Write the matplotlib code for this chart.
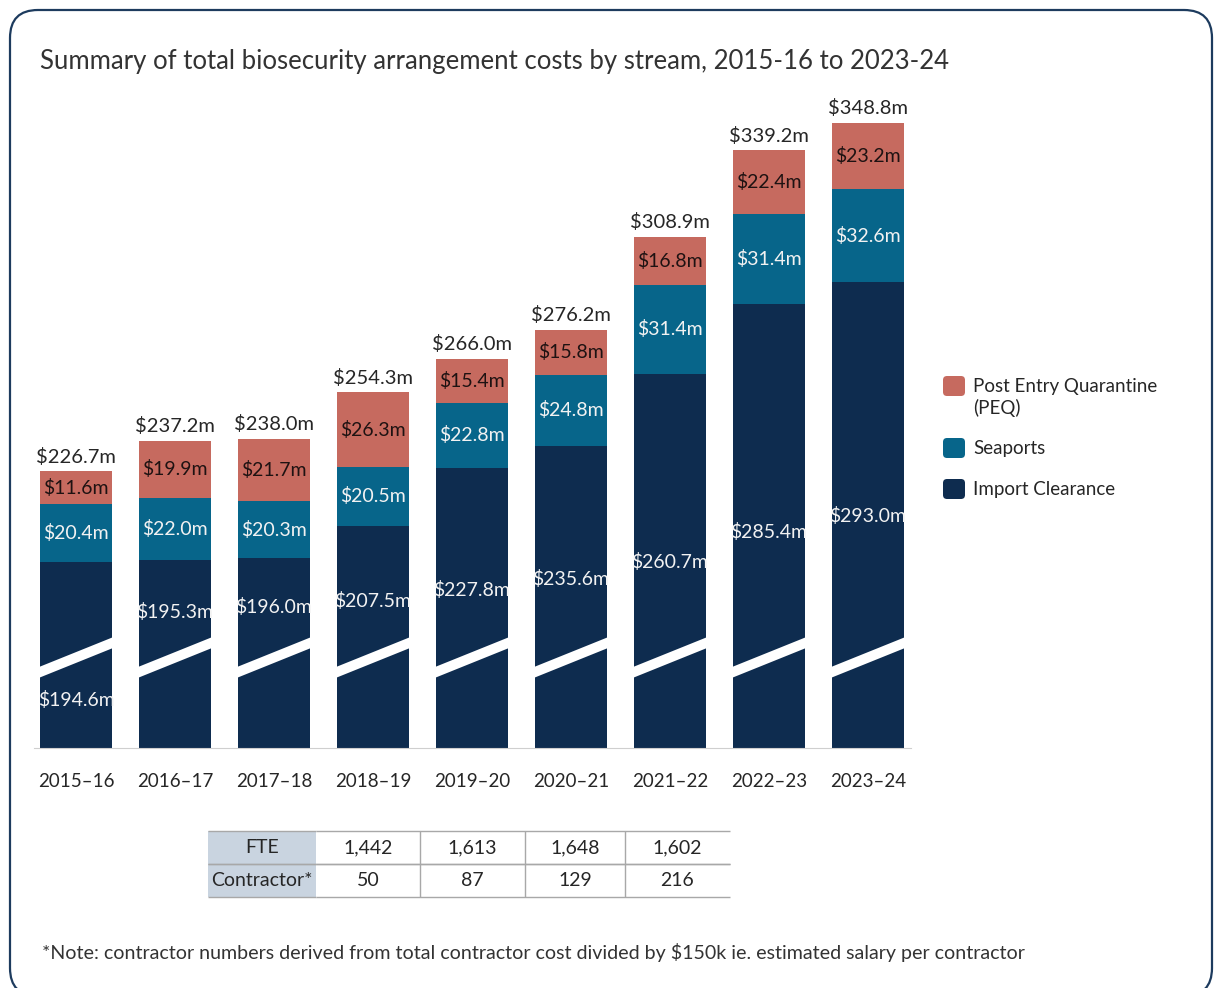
import matplotlib
matplotlib.use('Agg')
import matplotlib.pyplot as plt
import numpy as np
from matplotlib.patches import FancyBboxPatch, Polygon, Rectangle
from matplotlib.transforms import IdentityTransform

# ---- data ----
years = ['2015–16', '2016–17', '2017–18', '2018–19', '2019–20',
         '2020–21', '2021–22', '2022–23', '2023–24']
import_clearance = [194.6, 195.3, 196.0, 207.5, 227.8, 235.6, 260.7, 285.4, 293.0]
seaports = [20.4, 22.0, 20.3, 20.5, 22.8, 24.8, 31.4, 31.4, 32.6]
peq = [11.6, 19.9, 21.7, 26.3, 15.4, 15.8, 16.8, 22.4, 23.2]
totals = [226.7, 237.2, 238.0, 254.3, 266.0, 276.2, 308.9, 339.2, 348.8]

table_rows = ['FTE', 'Contractor*']
fte = ['1,442', '1,613', '1,648', '1,602']
contractors = ['50', '87', '129', '216']

# where the import clearance labels sit (value units, axis is cut)
import_label_y = [146.3, 177.2, 179.0, 181.1, 184.9, 188.8, 194.8, 205.3, 210.9]

C_IMPORT = '#0e2c4f'
C_SEA = '#07658a'
C_PEQ = '#c66a5f'
TXT = '#262626'

plt.rcParams['font.family'] = ['Lato', 'DejaVu Sans']

W, H = 1214, 988
fig = plt.figure(figsize=(W / 100, H / 100), dpi=100)

# rounded frame
frame = FancyBboxPatch((10, -8), W - 12, H - 2, boxstyle='round,pad=0,rounding_size=28',
                       transform=IdentityTransform(), fill=False,
                       edgecolor='#1d3b5e', linewidth=1.6)
fig.add_artist(frame)

fig.text(40 / W, 1 - 62 / H,
         'Summary of total biosecurity arrangement costs by stream, 2015-16 to 2023-24',
         fontsize=18.5, color='#333333', va='center', ha='left')

# ---- bars (axis starts above zero, bars broken) ----
ymin = 129.5
scale = 2.85  # px per $m
ax = fig.add_axes([26.5 / W, (H - 748) / H, 891 / W, 648 / H])
ax.set_xlim(-0.5, 8.5)
ax.set_ylim(ymin, ymin + 648 / scale)

x = np.arange(len(years))
w = 0.73
imp = np.array(import_clearance)
sea = np.array(seaports)
pq = np.array(peq)

ax.bar(x, imp, width=w, color=C_IMPORT, zorder=2)
ax.bar(x, sea, bottom=imp, width=w, color=C_SEA, zorder=2)
ax.bar(x, pq, bottom=imp + sea, width=w, color=C_PEQ, zorder=2)

# white break stripe
for xi in x:
    l, r = xi - w / 2 - 0.01, xi + w / 2 + 0.01
    ax.add_patch(Polygon([(l, 154.1), (r, 164.6), (r, 168.4), (l, 157.9)],
                         closed=True, facecolor='white', edgecolor='none', zorder=3))

fs = 14
for i in x:
    ax.text(i, import_label_y[i], f'${imp[i]:.1f}m', ha='center', va='center',
            color='#f2f2f2', fontsize=fs, zorder=4)
    ax.text(i, imp[i] + sea[i] / 2, f'${sea[i]:.1f}m', ha='center', va='center',
            color='#f2f2f2', fontsize=fs, zorder=4)
    ax.text(i, imp[i] + sea[i] + pq[i] / 2, f'${pq[i]:.1f}m', ha='center', va='center',
            color='#1e1212', fontsize=fs, zorder=4)
    top = imp[i] + sea[i] + pq[i]
    ax.annotate(f'${totals[i]:.1f}m', (i, top), xytext=(0, 4), textcoords='offset points',
                ha='center', va='bottom', color=TXT, fontsize=14.5)

for s in ['top', 'right', 'left']:
    ax.spines[s].set_visible(False)
ax.spines['bottom'].set_color('#cfcfcf')
ax.spines['bottom'].set_bounds(-0.42, 8.43)
ax.set_yticks([])
ax.set_xticks(x, years)
ax.tick_params(axis='x', length=0, pad=18, labelsize=13.5, labelcolor=TXT)

# ---- legend ----
legend_items = [('Post Entry Quarantine\n(PEQ)', C_PEQ, 386, 397.5),
                ('Seaports', C_SEA, 448, 448),
                ('Import Clearance', C_IMPORT, 489, 489)]
for label, col, yc, yt in legend_items:
    fig.add_artist(FancyBboxPatch((943, H - yc - 10), 22, 20,
                                  boxstyle='round,pad=0,rounding_size=4',
                                  transform=IdentityTransform(),
                                  facecolor=col, edgecolor='none'))
    fig.text(973 / W, 1 - yt / H, label, fontsize=13.5, color=TXT, va='center',
             ha='left', linespacing=1.2)

# ---- table ----
tax = fig.add_axes([208 / W, (H - 897) / H, 522 / W, 66 / H])
tax.axis('off')
cw = np.array([108, 104, 105, 100, 105], dtype=float)
cw = cw / cw.sum()
tax.add_patch(Rectangle((0, 0), cw[0], 1, transform=tax.transAxes,
                        facecolor='#c9d4e0', edgecolor='none', zorder=0))
cells = [[table_rows[0]] + fte, [table_rows[1]] + contractors]
tbl = tax.table(cellText=cells, bbox=[0, 0, 1, 1], colWidths=list(cw),
                cellLoc='center')
tbl.auto_set_font_size(False)
for (r, c), cell in tbl.get_celld().items():
    cell.set_edgecolor('#a8a8a8')
    cell.set_linewidth(1.0)
    cell.set_facecolor('none')
    cell.get_text().set_fontsize(14)
    cell.get_text().set_color(TXT)
    cell.get_text().set_va('center')
    if c <= 1:
        cell.visible_edges = 'TB'
    else:
        cell.visible_edges = 'TBL'

fig.text(42 / W, 1 - 952 / H,
         '*Note: contractor numbers derived from total contractor cost divided by $150k ie. '
         'estimated salary per contractor',
         fontsize=14.1, color='#333333', va='center', ha='left')

fig.savefig('out.png', dpi=100, facecolor='white')
